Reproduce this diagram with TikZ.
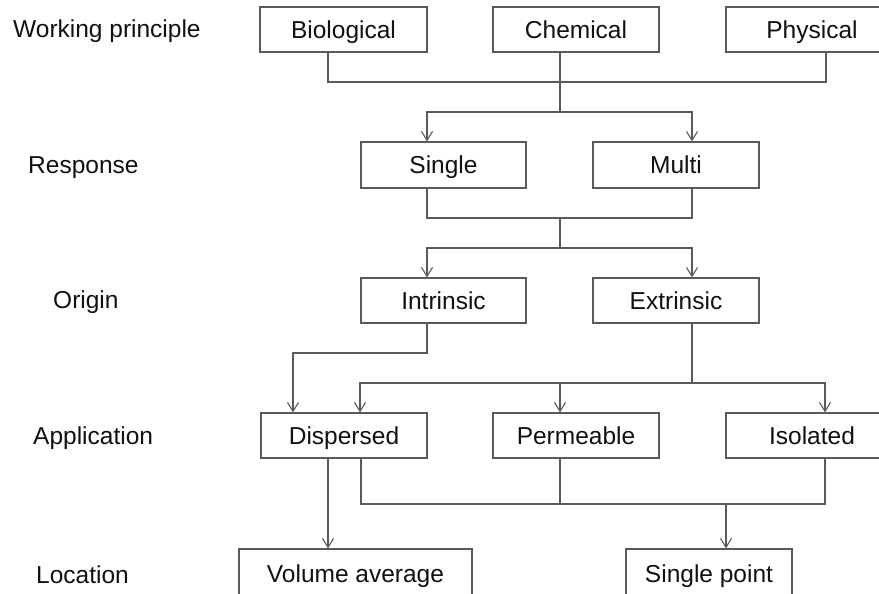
\documentclass[tikz,border=0pt]{standalone}
\usepackage{fontspec}
\setmainfont{Liberation Sans}
\usetikzlibrary{arrows.meta}
\definecolor{lncol}{HTML}{5A5A5A}
\definecolor{txtcol}{HTML}{111111}
\tikzset{
  box/.style={draw=lncol, line width=1.1pt, minimum height=45pt, inner sep=0pt,
              text height=18pt, text depth=0.5pt,
              text=txtcol, font=\fontsize{24.5}{28}\selectfont},
  lbl/.style={anchor=west, inner sep=0pt, text height=18pt, text depth=0.5pt,
              text=txtcol, font=\fontsize{24.5}{28}\selectfont},
  ln/.style={draw=lncol, line width=1.1pt},
  arr/.style={ln, -{Straight Barb[length=9pt,width=11pt,line width=1.1pt]}}
}
\begin{document}
\begin{tikzpicture}[x=1pt,y=-1pt]
\useasboundingbox (0,0) rectangle (879,594);
\clip (0,0) rectangle (879,594);
\fill[white] (0,0) rectangle (879,594);

% row labels
\node[lbl] (lwp) at (13,29) {Working principle};
\node[lbl] (lrs) at (28,165) {Response};
\node[lbl] (lor) at (53,300) {Origin};
\node[lbl] (lap) at (33,436) {Application};
\node[lbl] (llo) at (36,575) {Location};

% boxes
\node[box, minimum width=167pt] (bio)   at (343.5,29.5) {Biological};
\node[box, minimum width=166pt] (chem)  at (576,29.5) {Chemical};
\node[box, minimum width=172pt] (phys)  at (812,29.5) {Physical};
\node[box, minimum width=165pt, minimum height=46pt] (single) at (443.5,165) {Single};
\node[box, minimum width=166pt, minimum height=46pt] (multi)  at (676,165) {Multi};
\node[box, minimum width=165pt] (intr)  at (443.5,300.5) {Intrinsic};
\node[box, minimum width=166pt] (extr)  at (676,300.5) {Extrinsic};
\node[box, minimum width=166pt] (disp)  at (344,435.5) {Dispersed};
\node[box, minimum width=166pt] (perm)  at (576,435.5) {Permeable};
\node[box, minimum width=172pt] (isol)  at (812,435.5) {Isolated};
\node[box, minimum width=233pt, minimum height=50pt] (vol) at (355.5,574) {Volume average};
\node[box, minimum width=166pt, minimum height=50pt] (spt) at (709,574) {Single point};

% junction coordinates
\coordinate (b1) at (328,82);
\coordinate (c1) at (560,82);
\coordinate (p1) at (826,82);
\coordinate (c2) at (560,112);
\coordinate (s2) at (427,112);
\coordinate (m2) at (692,112);
\coordinate (s3) at (427,218);
\coordinate (m3) at (692,218);
\coordinate (c3) at (560,218);
\coordinate (c4) at (560,248);
\coordinate (i4) at (427,248);
\coordinate (e4) at (692,248);
\coordinate (i5) at (427,353);
\coordinate (d5) at (293,353);
\coordinate (e5) at (692,383);
\coordinate (d6) at (360,383);
\coordinate (pm6) at (560,383);
\coordinate (is6) at (825,383);
\coordinate (v7) at (328,504);
\coordinate (d7) at (361,504);
\coordinate (pm7) at (560,504);
\coordinate (is7) at (825,504);
\coordinate (sp7) at (726,504);

% working principle -> response
\draw[ln] (bio.south -| b1) -- (b1) -- (p1) -- (phys.south -| p1);
\draw[ln] (chem.south -| c1) -- (c2);
\draw[arr] (c2) -- (s2) -- (single.north -| s2);
\draw[arr] (c2) -- (m2) -- (multi.north -| m2);

% response -> origin
\draw[ln] (single.south -| s3) -- (s3) -- (m3) -- (multi.south -| m3);
\draw[ln] (c3) -- (c4);
\draw[arr] (c4) -- (i4) -- (intr.north -| i4);
\draw[arr] (c4) -- (e4) -- (extr.north -| e4);

% origin -> application
\draw[arr] (intr.south -| i5) -- (i5) -- (d5) -- (disp.north -| d5);
\draw[ln] (extr.south -| e5) -- (e5);
\draw[arr] (e5) -- (d6) -- (disp.north -| d6);
\draw[arr] (e5) -- (is6) -- (isol.north -| is6);
\draw[arr] (pm6) -- (perm.north -| pm6);

% application -> location
\draw[arr] (disp.south -| v7) -- (vol.north -| v7);
\draw[ln] (disp.south -| d7) -- (d7) -- (is7) -- (isol.south -| is7);
\draw[ln] (perm.south -| pm7) -- (pm7);
\draw[arr] (sp7) -- (spt.north -| sp7);
\end{tikzpicture}
\end{document}
